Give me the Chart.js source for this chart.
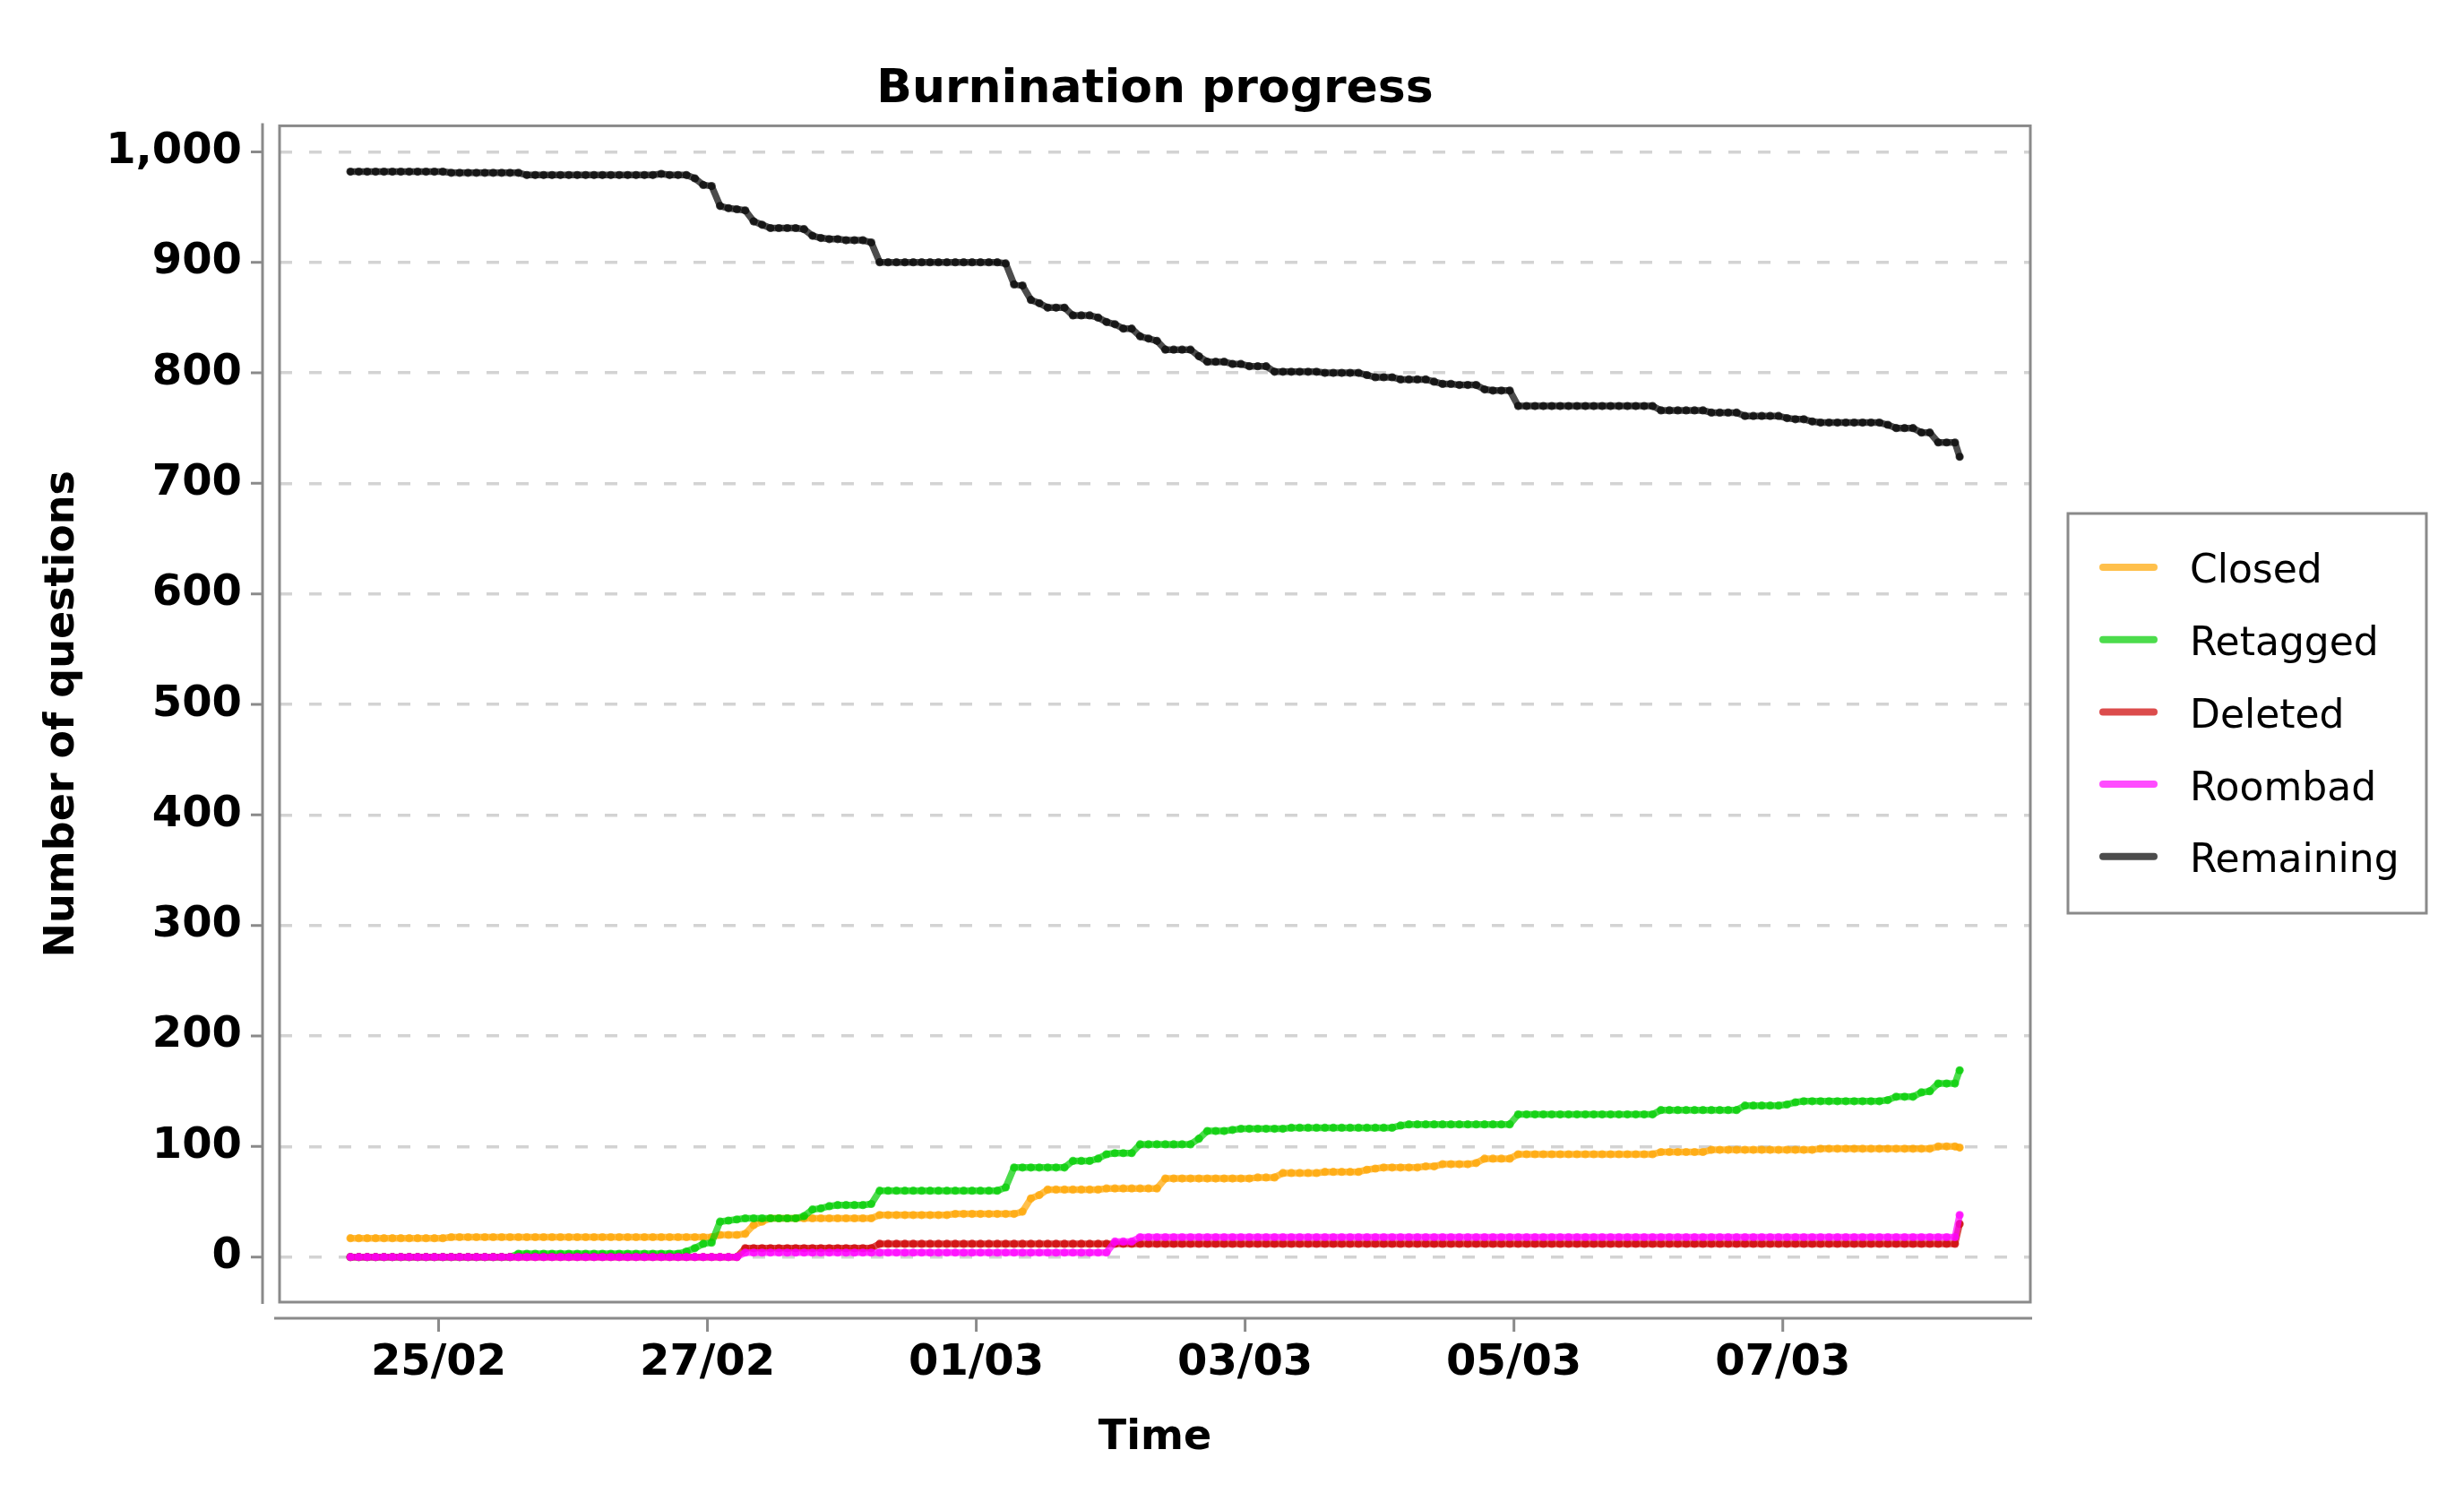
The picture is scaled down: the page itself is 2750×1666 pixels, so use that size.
<!DOCTYPE html>
<html>
<head>
<meta charset="utf-8">
<title>Burnination progress</title>
<script src="https://cdn.jsdelivr.net/npm/chart.js@4.4.1/dist/chart.umd.min.js"></script>
<style>
  html, body { margin: 0; padding: 0; background: #fff; }
  canvas { display: block; }
</style>
</head>
<body>
<canvas id="chartBurn" width="2750" height="1666"></canvas>
<script>
// One sample every 90 minutes, the last point is the "now" reading
const firstSample = '2019-02-24T08:15:00Z';
const sampleStepMinutes = 90;
const lastSample = '2019-03-08T07:35:00Z';

// Axis limits and ticks
const xMin = '2019-02-23T19:36:00Z';
const xMax = '2019-03-08T20:12:00Z';
const xTickDates = ['2019-02-25T00:00:00Z', '2019-02-27T00:00:00Z', '2019-03-01T00:00:00Z',
                    '2019-03-03T00:00:00Z', '2019-03-05T00:00:00Z', '2019-03-07T00:00:00Z'];
const xTickLabels = ['25/02', '27/02', '01/03', '03/03', '05/03', '07/03'];
const yTickValues = [0, 100, 200, 300, 400, 500, 600, 700, 800, 900, 1000];

const seriesLabels = ['Closed', 'Retagged', 'Deleted', 'Roombad', 'Remaining'];
const seriesColors = ['rgba(255,165,0,0.7)', 'rgba(0,205,0,0.7)', 'rgba(205,0,0,0.7)',
                      'rgba(255,0,255,0.7)', 'rgba(0,0,0,0.7)'];

const closed = [
  17,17,17,17,17,17,17,17,17,17,
  17,17,18,18,18,18,18,18,18,18,
  18,18,18,18,18,18,18,18,18,18,
  18,18,18,18,18,18,18,18,18,18,
  18,18,18,18,20,20,20,21,29,32,
  35,35,35,35,35,35,35,35,35,35,
  35,35,35,38,38,38,38,38,38,38,
  38,38,39,39,39,39,39,39,39,39,
  41,53,56,61,61,61,61,61,61,61,
  62,62,62,62,62,62,62,71,71,71,
  71,71,71,71,71,71,71,71,72,72,
  72,76,76,76,76,76,77,77,77,77,
  77,79,80,81,81,81,81,81,82,82,
  84,84,84,84,85,89,89,89,89,93,
  93,93,93,93,93,93,93,93,93,93,
  93,93,93,93,93,93,95,95,95,95,
  95,95,97,97,97,97,97,97,97,97,
  97,97,97,97,97,98,98,98,98,98,
  98,98,98,98,98,98,98,98,98,100,
  100,100,
  99
];

const retagged = [
  0,0,0,0,0,0,0,0,0,0,
  0,0,0,0,0,0,0,0,0,0,
  3,3,3,3,3,3,3,3,3,3,
  3,3,3,3,3,3,3,3,3,3,
  5,8,12,13,32,33,34,35,35,35,
  35,35,35,35,37,43,44,46,47,47,
  47,47,48,60,60,60,60,60,60,60,
  60,60,60,60,60,60,60,60,63,81,
  81,81,81,81,81,81,87,87,87,89,
  93,94,94,94,102,102,102,102,102,102,
  102,107,114,114,114,115,116,116,116,116,
  116,116,117,117,117,117,117,117,117,117,
  117,117,117,117,117,119,120,120,120,120,
  120,120,120,120,120,120,120,120,120,129,
  129,129,129,129,129,129,129,129,129,129,
  129,129,129,129,129,129,133,133,133,133,
  133,133,133,133,133,133,137,137,137,137,
  137,138,140,141,141,141,141,141,141,141,
  141,141,141,142,145,145,145,149,150,157,
  157,157,
  169
];

const deleted = [
  0,0,0,0,0,0,0,0,0,0,
  0,0,0,0,0,0,0,0,0,0,
  0,0,0,0,0,0,0,0,0,0,
  0,0,0,0,0,0,0,0,0,0,
  0,0,0,0,0,0,0,8,8,8,
  8,8,8,8,8,8,8,8,8,8,
  8,8,8,12,12,12,12,12,12,12,
  12,12,12,12,12,12,12,12,12,12,
  12,12,12,12,12,12,12,12,12,12,
  12,12,12,12,12,12,12,12,12,12,
  12,12,12,12,12,12,12,12,12,12,
  12,12,12,12,12,12,12,12,12,12,
  12,12,12,12,12,12,12,12,12,12,
  12,12,12,12,12,12,12,12,12,12,
  12,12,12,12,12,12,12,12,12,12,
  12,12,12,12,12,12,12,12,12,12,
  12,12,12,12,12,12,12,12,12,12,
  12,12,12,12,12,12,12,12,12,12,
  12,12,12,12,12,12,12,12,12,12,
  12,12,
  30
];

const roombad = [
  0,0,0,0,0,0,0,0,0,0,
  0,0,0,0,0,0,0,0,0,0,
  0,0,0,0,0,0,0,0,0,0,
  0,0,0,0,0,0,0,0,0,0,
  0,0,0,0,0,0,0,4,4,4,
  4,4,4,4,4,4,4,4,4,4,
  4,4,4,4,4,4,4,4,4,4,
  4,4,4,4,4,4,4,4,4,4,
  4,4,4,4,4,4,4,4,4,4,
  4,14,14,14,18,18,18,18,18,18,
  18,18,18,18,18,18,18,18,18,18,
  18,18,18,18,18,18,18,18,18,18,
  18,18,18,18,18,18,18,18,18,18,
  18,18,18,18,18,18,18,18,18,18,
  18,18,18,18,18,18,18,18,18,18,
  18,18,18,18,18,18,18,18,18,18,
  18,18,18,18,18,18,18,18,18,18,
  18,18,18,18,18,18,18,18,18,18,
  18,18,18,18,18,18,18,18,18,18,
  18,18,
  38
];

const remaining = [
  982,982,982,982,982,982,982,982,982,982,
  982,982,981,981,981,981,981,981,981,981,
  981,979,979,979,979,979,979,979,979,979,
  979,979,979,979,979,979,979,980,979,979,
  979,976,970,969,951,949,948,947,937,934,
  931,931,931,931,930,924,922,921,921,920,
  920,920,918,900,900,900,900,900,900,900,
  900,900,900,900,900,900,900,900,899,880,
  879,866,863,859,859,859,852,852,852,850,
  846,844,840,840,833,831,829,821,821,821,
  821,815,810,810,810,808,808,806,806,806,
  801,801,801,801,801,801,800,800,800,800,
  800,798,796,796,796,794,794,794,794,792,
  790,790,789,789,789,785,784,784,784,770,
  770,770,770,770,770,770,770,770,770,770,
  770,770,770,770,770,770,766,766,766,766,
  766,766,764,764,764,764,761,761,761,761,
  761,759,758,758,756,755,755,755,755,755,
  755,755,755,753,750,750,750,746,746,737,
  737,737,
  724
];

const t0 = Date.parse(firstSample);
const sampleTimes = remaining.map((_, i) =>
  i === remaining.length - 1 ? Date.parse(lastSample) : t0 + i * sampleStepMinutes * 60000);

const seriesValues = [closed, retagged, deleted, roombad, remaining];

const datasets = seriesLabels.map((label, k) => ({
  label,
  data: seriesValues[k].map((v, i) => ({ x: sampleTimes[i], y: v })),
  borderColor: seriesColors[k],
  backgroundColor: seriesColors[k],
  pointBackgroundColor: seriesColors[k],
  pointBorderWidth: 0,
  pointRadius: 4.6,
  borderWidth: 7.5,
  borderJoinStyle: 'round',
  borderCapStyle: 'round',
  tension: 0,
  order: seriesLabels.length - k
}));

const axisGray = '#8a8a8a';

// Box around the plot, offset axes and the legend
const framePlugin = {
  id: 'frame',
  afterDraw(chart) {
    const { ctx, chartArea: a, scales: { x, y } } = chart;
    ctx.save();
    ctx.strokeStyle = axisGray;
    ctx.lineWidth = 3;
    ctx.strokeRect(a.left, a.top, a.right - a.left, a.bottom - a.top);

    ctx.beginPath();
    const ax = a.left - 19;
    ctx.moveTo(ax, a.top - 3);
    ctx.lineTo(ax, a.bottom + 2);
    y.ticks.forEach(t => {
      const py = y.getPixelForValue(t.value);
      ctx.moveTo(ax, py);
      ctx.lineTo(ax - 13, py);
    });
    const ay = a.bottom + 18;
    ctx.moveTo(a.left - 6, ay);
    ctx.lineTo(a.right + 2, ay);
    x.ticks.forEach(t => {
      const px = x.getPixelForValue(t.value);
      ctx.moveTo(px, ay);
      ctx.lineTo(px, ay + 15);
    });
    ctx.stroke();

    // legend
    const box = { left: a.right + 42, top: 573, right: a.right + 442, bottom: 1019 };
    ctx.strokeRect(box.left, box.top, box.right - box.left, box.bottom - box.top);
    ctx.font = '44px "DejaVu Sans", sans-serif';
    ctx.textAlign = 'left';
    ctx.textBaseline = 'middle';
    chart.data.datasets.forEach((ds, k) => {
      const ly = 633 + k * 80.7;
      ctx.strokeStyle = ds.borderColor;
      ctx.lineWidth = 8;
      ctx.lineCap = 'round';
      ctx.beginPath();
      ctx.moveTo(box.left + 39, ly);
      ctx.lineTo(box.left + 96, ly);
      ctx.stroke();
      ctx.fillStyle = '#000';
      ctx.fillText(ds.label, box.left + 136, ly + 6);
    });
    ctx.restore();
  }
};

Chart.defaults.font.family = '"DejaVu Sans", sans-serif';
Chart.defaults.color = '#000';

new Chart(document.getElementById('chartBurn'), {
  type: 'line',
  data: { datasets },
  options: {
    responsive: false,
    animation: false,
    devicePixelRatio: 1,
    layout: { padding: { left: 0, right: 484, top: 0, bottom: 0 } },
    plugins: {
      legend: { display: false },
      tooltip: { enabled: false },
      title: {
        display: true,
        text: 'Burnination progress',
        fullSize: false,
        font: { size: 52, weight: 'bold' },
        color: '#000',
        padding: { top: 69, bottom: 9 }
      }
    },
    scales: {
      x: {
        type: 'linear',
        min: Date.parse(xMin),
        max: Date.parse(xMax),
        afterBuildTicks: s => { s.ticks = xTickDates.map(d => ({ value: Date.parse(d) })); },
        afterFit: s => { s.height = 213; },
        grid: { display: false, drawTicks: false },
        border: { display: false },
        ticks: {
          padding: 40,
          autoSkip: false,
          maxRotation: 0,
          font: { size: 48, weight: 'bold' },
          callback: (v, i) => xTickLabels[i]
        },
        title: {
          display: true,
          text: 'Time',
          font: { size: 46, weight: 'bold' },
          padding: { top: 0, bottom: 33 }
        }
      },
      y: {
        min: -40.8,
        max: 1023.5,
        afterBuildTicks: s => { s.ticks = yTickValues.map(v => ({ value: v })); },
        afterFit: s => { s.width = 312; },
        grid: { color: '#d3d3d3', lineWidth: 3.5, drawTicks: false },
        border: { display: false, dash: [14, 19] },
        ticks: {
          padding: 42,
          font: { size: 48, weight: 'bold' },
          callback: v => v.toLocaleString('en-US')
        },
        title: {
          display: true,
          text: 'Number of questions',
          font: { size: 46, weight: 'bold' },
          padding: { top: 42, bottom: 0 }
        }
      }
    }
  },
  plugins: [framePlugin]
});
</script>
</body>
</html>
